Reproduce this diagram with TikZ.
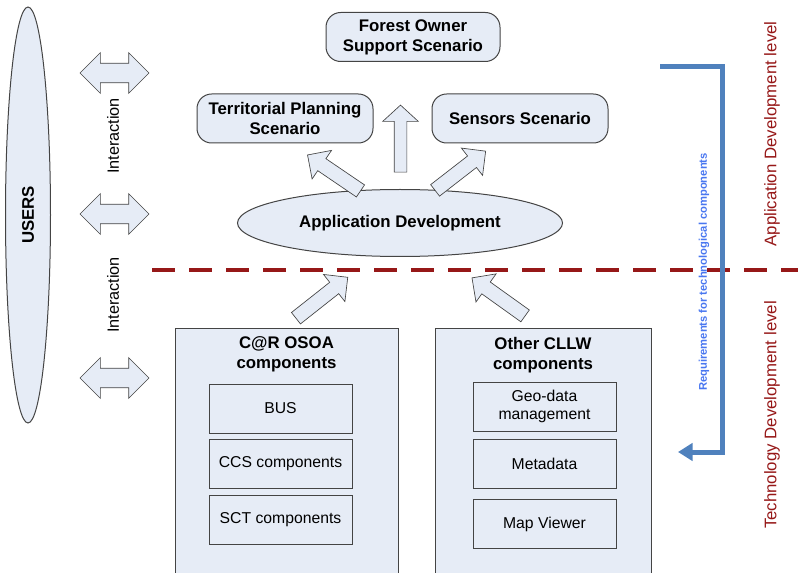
\documentclass[tikz,border=0pt]{standalone}
\usepackage{fontspec}
\setmainfont{Liberation Sans}
\usetikzlibrary{shapes.geometric,shapes.arrows,arrows.meta}
\definecolor{boxfill}{RGB}{230,236,246}
\definecolor{boxline}{RGB}{68,68,68}
\definecolor{levelred}{RGB}{150,24,24}
\definecolor{reqline}{RGB}{79,129,189}
\definecolor{reqtext}{RGB}{72,118,240}
\begin{document}
\begin{tikzpicture}[x=0.75pt,y=-0.75pt,
  every node/.style={inner sep=0pt, outer sep=0pt},
  boldtxt/.style={font=\bfseries\fontsize{12.6}{15}\selectfont},
  plaintxt/.style={font=\fontsize{11.8}{13.5}\selectfont},
  scen/.style={boldtxt, draw=boxline, fill=boxfill, line width=0.75pt,
    rounded corners=11pt, align=center, minimum height=36.75pt},
  outerbox/.style={draw=boxline, fill=boxfill, line width=0.75pt,
    minimum width=#1, minimum height=189pt, anchor=north},
  innerbox/.style={plaintxt, draw=boxline, fill=boxfill, line width=0.75pt,
    minimum width=107.25pt, minimum height=36.75pt, align=center},
  interarrow/.style={double arrow, draw=boxline, fill=boxfill, line width=0.5pt,
    minimum height=51.75pt, inner xsep=0pt, inner ysep=7.1pt,
    double arrow head extend=7.9pt, double arrow tip angle=90},
  flowarrow/.style={single arrow, draw=boxline, fill=boxfill, line width=0.5pt,
    minimum height=48pt, inner xsep=0pt, inner ysep=5.2pt,
    single arrow head extend=7.5pt, single arrow tip angle=90},
  leveltxt/.style={font=\fontsize{12.6}{15}\selectfont, text=levelred, rotate=90},
]
\useasboundingbox (0,0) rectangle (798,573);
\clip (0,0) rectangle (798,573);

% users column
\node[ellipse, draw=boxline, fill=boxfill, line width=0.75pt,
  minimum width=33.75pt, minimum height=312pt] (users) at (28,215) {};
\node[boldtxt, rotate=90] (userslbl) at (users.center) {USERS};

% interaction arrows and labels
\node[interarrow] (ia1) at (114.5,73) {};
\node[interarrow] (ia2) at (114.5,214) {};
\node[interarrow] (ia3) at (114.5,378) {};
\node[font=\fontsize{12.2}{14}\selectfont, rotate=90] (int1) at (113,136) {Interaction};
\node[font=\fontsize{12.2}{14}\selectfont, rotate=90] (int2) at (113,295) {Interaction};

% application level scenarios
\node[scen, minimum width=130.5pt] (forest) at (413,37) {Forest Owner\\Support Scenario};
\node[scen, minimum width=132pt] (territ) at (285,118.5) {Territorial Planning\\Scenario};
\node[scen, minimum width=132pt] (sensors) at (520,118.5) {Sensors Scenario};
\node[ellipse, boldtxt, draw=boxline, fill=boxfill, line width=0.75pt,
  minimum width=243.75pt, minimum height=50.25pt] (appdev) at (400,223) {Application Development};

% arrows from application development to scenarios
\node[flowarrow, rotate=90, minimum height=50.25pt, inner ysep=4.5pt,
  single arrow head extend=8.6pt, single arrow tip angle=95] (upar) at (400.5,141.5) {};
\node[flowarrow, rotate=145.8] (tarr) at (337,175) {};
\node[flowarrow, rotate=37.8] (sarr) at (457.5,173) {};

% level separator
\coordinate (sepL) at (152,270);
\coordinate (sepR) at (805,270);
\draw[levelred, line width=2.4pt, dash pattern=on 17.25pt off 10.5pt] (sepL) -- (sepR);

% arrows from component groups to application development
\node[flowarrow, rotate=38.3, minimum height=49.5pt] (carar) at (319,300) {};
\node[flowarrow, rotate=144.4, minimum height=49pt] (othar) at (501.5,299) {};

% C@R OSOA components
\node[outerbox=167.25pt] (car) at (286.5,328) {};
\node[boldtxt, align=center, anchor=north] (cartitle) at (286.5,337) {C@R OSOA\\components};
\node[innerbox] (bus) at (280.5,408.5) {BUS};
\node[innerbox] (ccs) at (280.5,463.5) {CCS components};
\node[innerbox] (sct) at (280.5,520) {SCT components};

% other CLLW components
\node[outerbox=162pt] (other) at (543,328) {};
\node[boldtxt, align=center, anchor=north] (othtitle) at (543,337) {Other CLLW\\components};
\node[innerbox] (geo) at (544.5,406.5) {Geo-data\\management};
\node[innerbox] (meta) at (544.5,463.5) {Metadata};
\node[innerbox] (mapv) at (544.5,524) {Map Viewer};

% requirements feedback arrow
\coordinate (reqstart) at (660,67);
\coordinate (reqend) at (678,452);
\draw[reqline, line width=3.75pt, line join=miter,
  -{Triangle[length=11pt, width=13pt]}] (reqstart) -- ++(62,0) |- (reqend);
\node[font=\bfseries\fontsize{8.4}{10}\selectfont, text=reqtext, rotate=90] (reqlbl) at (704,272)
  {Requirements for technological components};

% level labels
\node[leveltxt] (applevel) at (772,134) {Application Development level};
\node[leveltxt] (techlevel) at (772,415) {Technology Development level};
\end{tikzpicture}
\end{document}
